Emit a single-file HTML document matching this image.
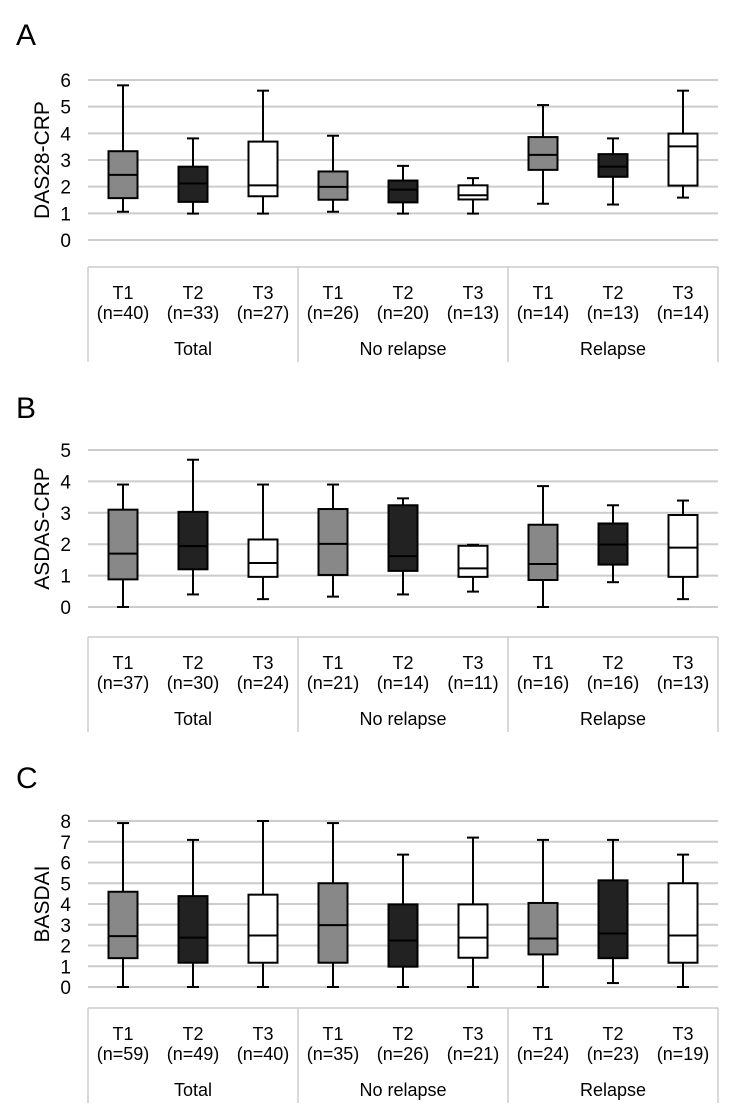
<!DOCTYPE html>
<html><head><meta charset="utf-8"><style>
html,body{margin:0;padding:0;background:#fff;}
svg{display:block;font-family:"Liberation Sans",Arial,sans-serif;}
</style></head><body>
<svg id="fig" width="744" height="1114" viewBox="0 0 744 1114"></svg>
<script>
const groups = ["Total","No relapse","Relapse"];
const times = ["T1","T2","T3"];
const fills = ["#888888","#222222","#ffffff"];
const aNs = ["40","33","27","26","20","13","14","13","14"];
const aMin = [1.06,0.99,0.99,1.06,0.99,0.99,1.36,1.33,1.59];
const aQ1 = [1.57,1.43,1.64,1.51,1.41,1.52,2.63,2.37,2.04];
const aMed = [2.44,2.12,2.05,1.99,1.89,1.68,3.19,2.75,3.51];
const aQ3 = [3.33,2.75,3.69,2.57,2.23,2.05,3.86,3.22,3.99];
const aMax = [5.8,3.81,5.6,3.91,2.78,2.32,5.06,3.81,5.6];
const bNs = ["37","30","24","21","14","11","16","16","13"];
const bMin = [0,0.4,0.25,0.33,0.4,0.49,0,0.79,0.25];
const bQ1 = [0.88,1.2,0.96,1.02,1.15,0.96,0.86,1.35,0.96];
const bMed = [1.7,1.94,1.4,2.01,1.62,1.23,1.37,1.99,1.89];
const bQ3 = [3.1,3.03,2.15,3.12,3.24,1.95,2.62,2.66,2.93];
const bMax = [3.9,4.69,3.9,3.9,3.46,1.98,3.85,3.24,3.39];
const cNs = ["59","49","40","35","26","21","24","23","19"];
const cMin = [0,0,0,0,0,0,0,0.19,0];
const cQ1 = [1.39,1.17,1.17,1.17,0.98,1.41,1.57,1.39,1.17];
const cMed = [2.45,2.38,2.48,2.98,2.24,2.38,2.34,2.58,2.48];
const cQ3 = [4.59,4.38,4.45,5.0,3.98,3.98,4.05,5.14,5.0];
const cMax = [7.9,7.09,8,7.9,6.38,7.2,7.09,7.09,6.38];

const NS="http://www.w3.org/2000/svg";
const svg=document.getElementById('fig');
function mk(tag,attrs,parent){const e=document.createElementNS(NS,tag);for(const k in attrs)e.setAttribute(k,attrs[k]);(parent||svg).appendChild(e);return e;}
const X0=88,X1=718,slot=70;
function xc(i){return X0+slot*(i+0.5);}

function panel(p){
  const g=mk('g',{});
  
  
  const yv=v=>p.y0-(v/p.ymax)*(p.y0-p.yTop);
  const lt=mk('text',{x:16,y:p.letterY,'font-size':30,fill:'#000'},g);lt.textContent=p.letter;
  
  
  for(let v=0;v<=p.ymax;v++){
    const gl=mk('line',{x1:X0,x2:X1,y1:yv(v),y2:yv(v),stroke:'#cccccc','stroke-width':2},g);
    
    
    const t=mk('text',{x:71,y:yv(v)+7,'font-size':19,'text-anchor':'end'},g);t.textContent=v;
    
    
  }
  const cy=(p.y0+p.yTop)/2;
  const yt=mk('text',{x:49,y:cy,'font-size':21,'text-anchor':'middle',transform:`rotate(-90 49 ${cy})`},g);
  yt.textContent=p.title;
  
  
  for(let i=0;i<9;i++){
    const x=xc(i),w=29;
    const bg=mk('g',{},g);
    
    
    mk('line',{x1:x,x2:x,y1:yv(p.max[i]),y2:yv(p.q3[i]),stroke:'#000','stroke-width':2},bg);
    mk('line',{x1:x,x2:x,y1:yv(p.q1[i]),y2:yv(p.min[i]),stroke:'#000','stroke-width':2},bg);
    mk('line',{x1:x-6,x2:x+6,y1:yv(p.max[i]),y2:yv(p.max[i]),stroke:'#000','stroke-width':2},bg);
    mk('line',{x1:x-6,x2:x+6,y1:yv(p.min[i]),y2:yv(p.min[i]),stroke:'#000','stroke-width':2},bg);
    mk('rect',{x:x-w/2,y:yv(p.q3[i]),width:w,height:yv(p.q1[i])-yv(p.q3[i]),fill:fills[i%3],stroke:'#000','stroke-width':2},bg);
    mk('line',{x1:x-w/2,x2:x+w/2,y1:yv(p.med[i]),y2:yv(p.med[i]),stroke:'#000','stroke-width':2},bg);
  }
  const T=p.tTop,B=p.tTop+95;
  const tb=mk('g',{},g);
  
  
  mk('line',{x1:X0,x2:X1,y1:T,y2:T,stroke:'#ccc','stroke-width':1.5},tb);
  [0,1,2,3].forEach(k=>mk('line',{x1:X0+210*k,x2:X0+210*k,y1:T,y2:B,stroke:'#ccc','stroke-width':1.5},tb));
  for(let i=0;i<9;i++){
    const a=mk('text',{x:xc(i),y:T+32,'font-size':18,'text-anchor':'middle'},tb);a.textContent=times[i%3];
    
    
    const b=mk('text',{x:xc(i),y:T+52,'font-size':18,'text-anchor':'middle'},tb);b.textContent='(n='+p.ns[i]+')';
    
    
  }
  groups.forEach((gn,k)=>{const t=mk('text',{x:X0+210*k+105,y:T+88,'font-size':18,'text-anchor':'middle'},tb);t.textContent=gn;
    
    });
}
panel({letter:'A',letterY:45,title:'DAS28-CRP',ymax:6,yTop:80,y0:240,tTop:267,ns:aNs,min:aMin,q1:aQ1,med:aMed,q3:aQ3,max:aMax});
panel({letter:'B',letterY:418,title:'ASDAS-CRP',ymax:5,yTop:450,y0:607,tTop:637,ns:bNs,min:bMin,q1:bQ1,med:bMed,q3:bQ3,max:bMax});
panel({letter:'C',letterY:788,title:'BASDAI',ymax:8,yTop:821,y0:987,tTop:1008,ns:cNs,min:cMin,q1:cQ1,med:cMed,q3:cQ3,max:cMax});
</script>
</body></html>
